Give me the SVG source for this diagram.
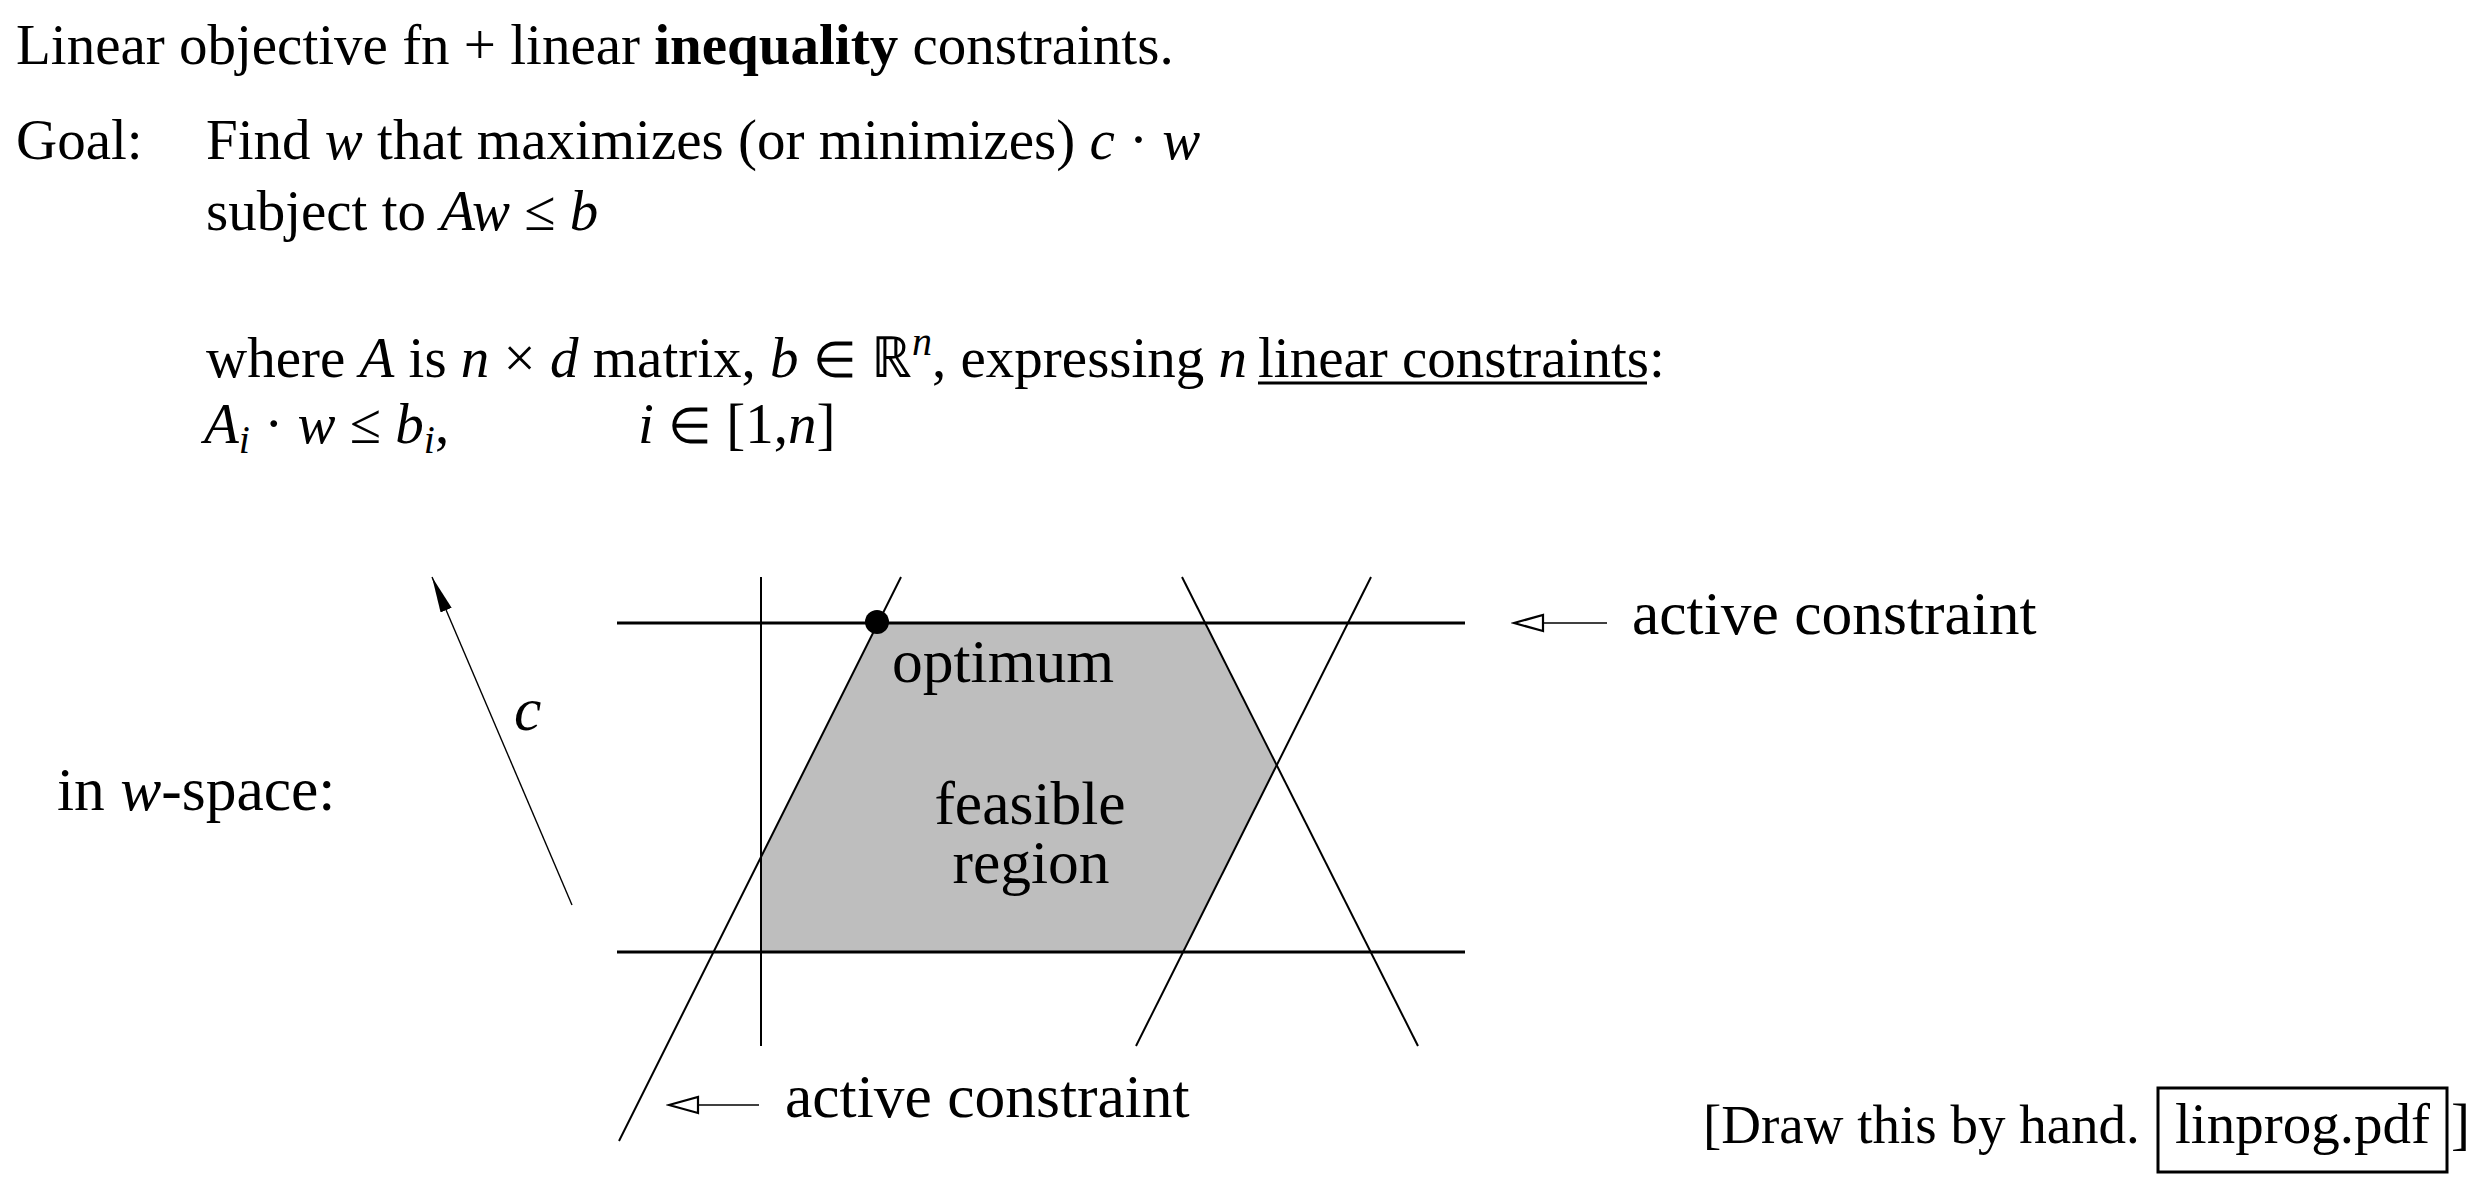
<svg xmlns="http://www.w3.org/2000/svg" width="2482" height="1184" viewBox="0 0 2482 1184">
<style>
.t{font-family:"Liberation Serif","Times New Roman",serif;font-size:57px;fill:#000}
.d{font-family:"Liberation Serif","Times New Roman",serif;font-size:61.5px;fill:#000}
.i{font-style:italic}
.m{font-size:50px}
.hl{stroke:#000;stroke-width:3;fill:none}
.sl{stroke:#000;stroke-width:2;fill:none}
.ar{stroke:#000;stroke-width:1.4;fill:none}
</style>
<defs>
<marker id="fh" markerUnits="userSpaceOnUse" viewBox="0 0 36 12" refX="36" refY="6" markerWidth="36" markerHeight="12" orient="auto">
<path d="M0,0 L36,6 L0,12 z" fill="#000"/>
</marker>
<marker id="oh" markerUnits="userSpaceOnUse" viewBox="-2 -2 34 20" refX="29" refY="8" markerWidth="34" markerHeight="20" orient="auto">
<path d="M0,0 L29,8 L0,16 z" fill="#fff" stroke="#000" stroke-width="2.2"/>
</marker>
</defs>
<rect width="2482" height="1184" fill="#fff"/>
<g id="header">
<text class="t" x="16" y="64">Linear objective fn + linear <tspan font-weight="bold">inequality</tspan> constraints.</text>
<text class="t" x="16" y="159">Goal:</text>
<text class="t" x="206" y="159">Find <tspan class="i">w</tspan> that maximizes (or minimizes) <tspan class="i">c</tspan> · <tspan class="i">w</tspan></text>
<text class="t" x="206" y="230">subject to <tspan class="i">Aw</tspan> ≤ <tspan class="i">b</tspan></text>
<text class="t" x="206" y="377">where <tspan class="i">A</tspan> is <tspan class="i">n</tspan> × <tspan class="i">d</tspan> matrix, <tspan class="i">b</tspan> <tspan class="m">∈</tspan> ℝ<tspan class="i" font-size="40" dy="-22">n</tspan><tspan dy="22">, expressing </tspan><tspan class="i">n</tspan></text>
<text class="t" x="1258" y="377">linear constraints:</text>
<line x1="1258" y1="383" x2="1647" y2="383" stroke="#000" stroke-width="3"/>
<text class="t" x="204" y="443"><tspan class="i">A</tspan><tspan class="i" font-size="40" dy="10">i</tspan><tspan dy="-10"> · </tspan><tspan class="i">w</tspan> ≤ <tspan class="i">b</tspan><tspan class="i" font-size="40" dy="10">i</tspan><tspan dy="-10">,</tspan></text>
<text class="t" x="638" y="443"><tspan class="i">i</tspan> <tspan class="m">∈</tspan> [1,<tspan class="i">n</tspan>]</text>
</g>
<g id="feasible-region">
<polygon points="878,623 1205,623 1277,766 1183,952 761,952 761,857" fill="#bebebe"/>
</g>
<g id="constraint-lines">
<line class="hl" x1="617" y1="623" x2="1465" y2="623"/>
<line class="hl" x1="617" y1="952" x2="1465" y2="952"/>
<line class="sl" x1="761" y1="577" x2="761" y2="1046"/>
<line class="sl" x1="901" y1="577" x2="619" y2="1141"/>
<line class="sl" x1="1182" y1="577" x2="1418" y2="1046"/>
<line class="sl" x1="1371" y1="577" x2="1136" y2="1046"/>
</g>
<g id="optimum-point">
<circle cx="877" cy="622" r="12" fill="#000"/>
</g>
<g id="labels">
<text class="d" x="892" y="682">optimum</text>
<text class="d" x="1030" y="824" text-anchor="middle">feasible</text>
<text class="d" x="1031" y="883" text-anchor="middle">region</text>
<text class="d i" x="514" y="730">c</text>
<text class="d" x="57" y="810">in <tspan class="i">w</tspan>-space:</text>
<text class="d" x="1632" y="634">active constraint</text>
<text class="d" x="785" y="1117">active constraint</text>
</g>
<g id="connectors">
<line class="ar" x1="572" y1="905" x2="432" y2="577" marker-end="url(#fh)"/>
<line class="ar" x1="1607" y1="623" x2="1514" y2="623" marker-end="url(#oh)"/>
<line class="ar" x1="759" y1="1105" x2="669" y2="1105" marker-end="url(#oh)"/>
</g>
<g id="footer">
<text class="t" x="1703" y="1143" style="font-size:55px">[Draw this by hand.</text>
<rect x="2158" y="1088" width="289" height="84" fill="none" stroke="#000" stroke-width="3"/>
<text class="t" x="2175" y="1143">linprog.pdf</text>
<text class="t" x="2451" y="1143">]</text>
</g>
</svg>
